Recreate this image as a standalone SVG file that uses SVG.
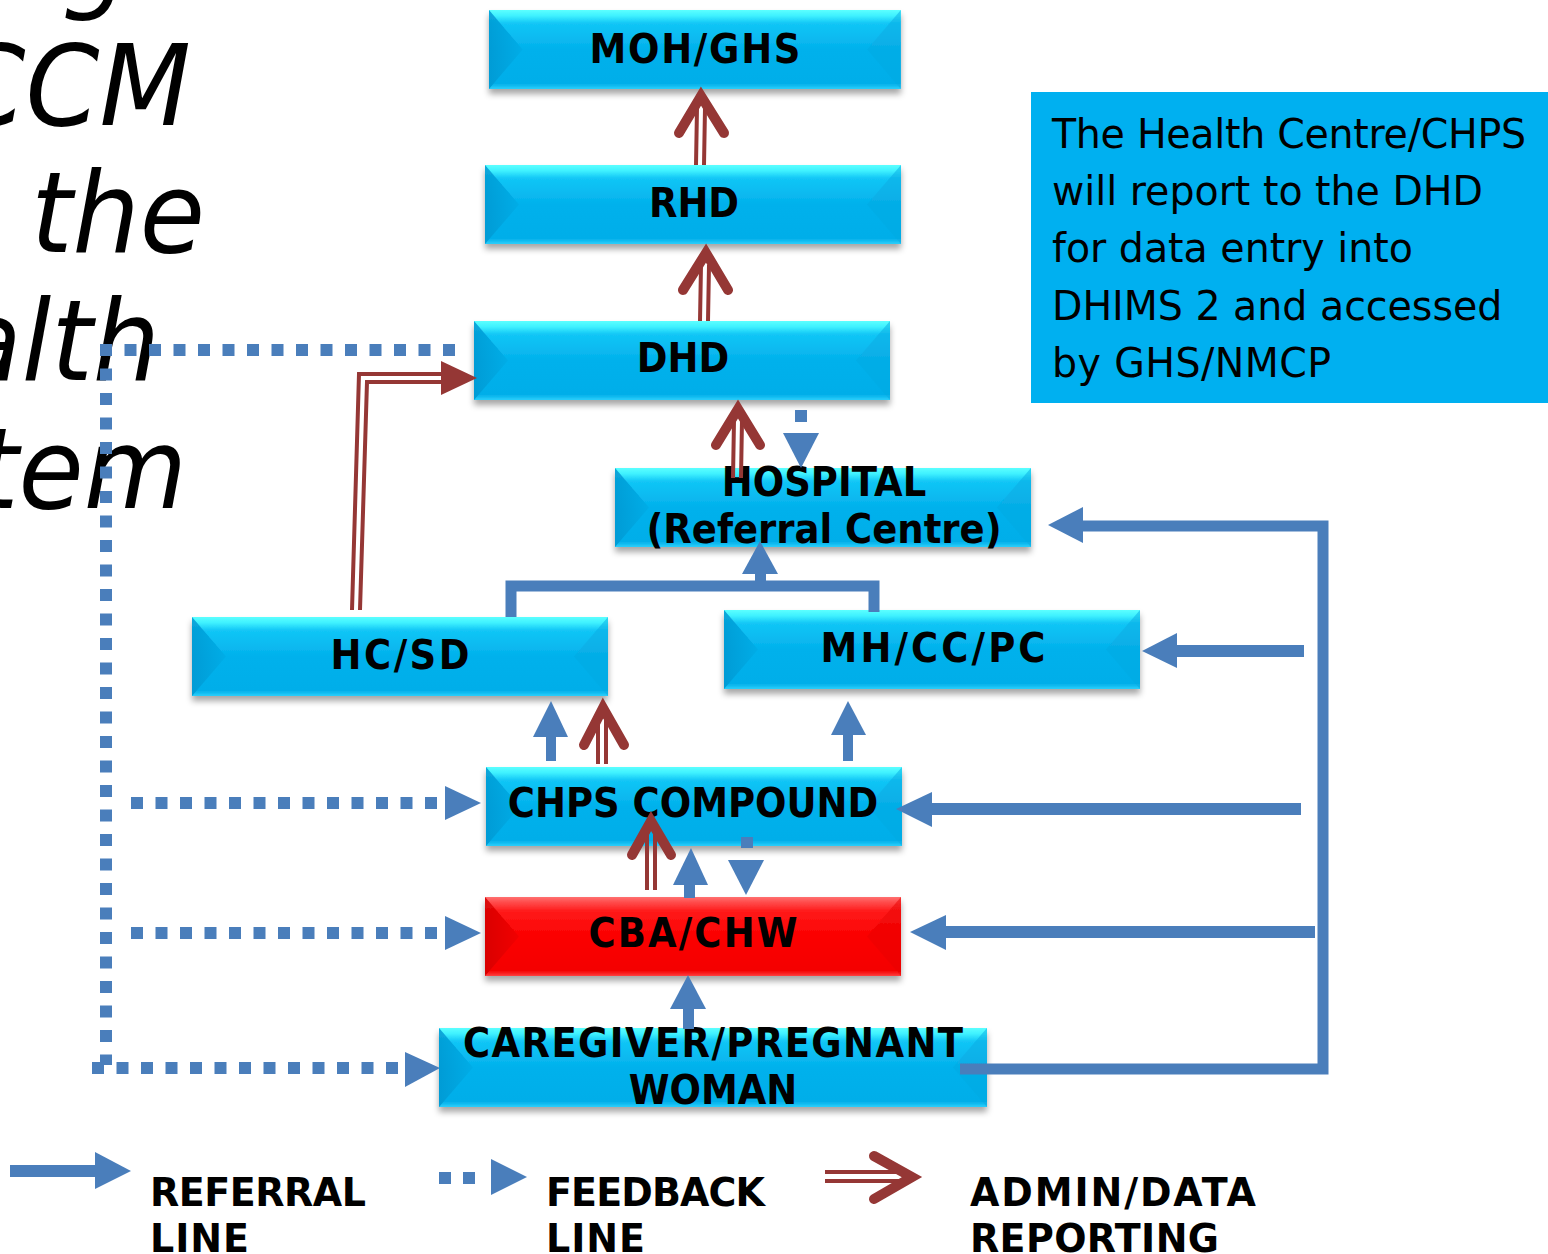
<svg xmlns="http://www.w3.org/2000/svg" xmlns:xlink="http://www.w3.org/1999/xlink" width="1548" height="1254" viewBox="0 0 1548 1254">
<defs>
<linearGradient id="gc" x1="0" y1="0" x2="0" y2="1">
<stop offset="0" stop-color="#5cffff"/>
<stop offset="0.07" stop-color="#40f2ff"/>
<stop offset="0.17" stop-color="#12c6f6"/>
<stop offset="0.5" stop-color="#03b1ec"/>
<stop offset="0.93" stop-color="#00aee9"/>
<stop offset="1" stop-color="#2ccffb"/>
</linearGradient>
<linearGradient id="gcl" x1="0" y1="0" x2="1" y2="0">
<stop offset="0" stop-color="#0098d2"/>
<stop offset="1" stop-color="#04ace6"/>
</linearGradient>
<linearGradient id="gr" x1="0" y1="0" x2="0" y2="1">
<stop offset="0" stop-color="#ff7070"/>
<stop offset="0.07" stop-color="#ff4a4a"/>
<stop offset="0.18" stop-color="#ff1a1a"/>
<stop offset="0.5" stop-color="#fb0000"/>
<stop offset="0.93" stop-color="#f40000"/>
<stop offset="1" stop-color="#ff4040"/>
</linearGradient>
<linearGradient id="grl" x1="0" y1="0" x2="1" y2="0">
<stop offset="0" stop-color="#d40000"/>
<stop offset="1" stop-color="#f00000"/>
</linearGradient>
<filter id="sh" x="-5%" y="-20%" width="110%" height="160%">
<feDropShadow dx="0" dy="5" stdDeviation="3" flood-color="#000" flood-opacity="0.35"/>
</filter>
<g id="cbox">
<rect x="0" y="0" width="416" height="79" fill="url(#gc)"/>
<polygon points="0,0 34,39.5 0,79" fill="url(#gcl)" opacity="0.85"/>
<polygon points="416,0 382,39.5 416,79" fill="#08aae2" opacity="0.5"/>
</g>
<g id="rbox">
<rect x="0" y="0" width="416" height="79" fill="url(#gr)"/>
<polygon points="0,0 34,39.5 0,79" fill="url(#grl)" opacity="0.85"/>
<polygon points="416,0 382,39.5 416,79" fill="#e80000" opacity="0.5"/>
</g>
<style>
.bt{font-family:"DejaVu Sans",Verdana,sans-serif;font-weight:bold;font-size:37px;fill:#000;text-anchor:middle}
.lg{font-family:"DejaVu Sans",Verdana,sans-serif;font-weight:bold;font-size:38px;fill:#000}
.it{font-family:"DejaVu Sans",Verdana,sans-serif;font-style:italic;font-size:106px;fill:#000;text-anchor:end}
.nt{font-family:"DejaVu Sans",Verdana,sans-serif;font-size:39.5px;fill:#000}
.ref{fill:none;stroke:#4a7ebb;stroke-width:11}
.refp{fill:#4a7ebb}
.fb{fill:none;stroke:#4a7ebb;stroke-width:12;stroke-dasharray:12 12.5}
.adm{fill:none;stroke:#953735;stroke-width:4}
.chev{fill:none;stroke:#953735;stroke-width:10;stroke-linecap:round;stroke-linejoin:miter;stroke-miterlimit:10}
.admp{fill:#953735}
</style>
</defs>
<rect x="0" y="0" width="1548" height="1254" fill="#ffffff"/>

<g id="title">
<text class="it" transform="translate(62 -2) scale(1 1.06)" style="text-anchor:start">g</text>
<text class="it" transform="translate(191 125) scale(1 1.06)">CCM</text>
<text class="it" transform="translate(205 252) scale(1 1.06)">the</text>
<text class="it" transform="translate(160 380) scale(1 1.06)">alth</text>
<text class="it" transform="translate(187 508) scale(1 1.06)">tem</text>
</g>

<g id="note">
<rect x="1031" y="92" width="517" height="311" fill="#00b0f0"/>
<text class="nt" transform="translate(1052 148) scale(1 1.05)" textLength="474" lengthAdjust="spacing">The Health Centre/CHPS</text>
<text class="nt" transform="translate(1052 205) scale(1 1.05)">will report to the DHD</text>
<text class="nt" transform="translate(1052 262) scale(1 1.05)">for data entry into</text>
<text class="nt" transform="translate(1052 320) scale(1 1.05)">DHIMS 2 and accessed</text>
<text class="nt" transform="translate(1052 377) scale(1 1.05)" textLength="279" lengthAdjust="spacing">by GHS/NMCP</text>
</g>

<g id="moh">
<use xlink:href="#cbox" href="#cbox" transform="translate(489 10) scale(0.99 1)" filter="url(#sh)"/>
<text class="bt" transform="translate(695 63) scale(1 1.08)" textLength="211" lengthAdjust="spacing">MOH/GHS</text>
</g>
<g id="rhd">
<use xlink:href="#cbox" href="#cbox" transform="translate(485 165)" filter="url(#sh)"/>
<text class="bt" transform="translate(694 217) scale(1 1.08)">RHD</text>
</g>
<g id="dhd">
<use xlink:href="#cbox" href="#cbox" transform="translate(474 321)" filter="url(#sh)"/>
<text class="bt" transform="translate(683 372) scale(1 1.08)">DHD</text>
</g>
<g id="hospital">
<use xlink:href="#cbox" href="#cbox" transform="translate(615 468)" filter="url(#sh)"/>
<text class="bt" transform="translate(824 496) scale(1 1.08)">HOSPITAL</text>
<text class="bt" transform="translate(824 543) scale(1 1.08)">(Referral Centre)</text>
</g>
<g id="hcsd">
<use xlink:href="#cbox" href="#cbox" transform="translate(192 617)" filter="url(#sh)"/>
<text class="bt" transform="translate(400 669) scale(1 1.08)" textLength="139" lengthAdjust="spacing">HC/SD</text>
</g>
<g id="mhccpc">
<use xlink:href="#cbox" href="#cbox" transform="translate(724 610)" filter="url(#sh)"/>
<text class="bt" transform="translate(933 662) scale(1 1.08)" textLength="225" lengthAdjust="spacing">MH/CC/PC</text>
</g>
<g id="chps">
<use xlink:href="#cbox" href="#cbox" transform="translate(486 767)" filter="url(#sh)"/>
<text class="bt" transform="translate(693 817) scale(1 1.08)">CHPS COMPOUND</text>
</g>
<g id="cba">
<use xlink:href="#rbox" href="#rbox" transform="translate(485 897)" filter="url(#sh)"/>
<text class="bt" transform="translate(693 947) scale(1 1.08)" textLength="209" lengthAdjust="spacing">CBA/CHW</text>
</g>
<g id="caregiver">
<g filter="url(#sh)">
<rect x="439" y="1028" width="548" height="79" fill="url(#gc)"/>
<polygon points="439,1028 473,1067.5 439,1107" fill="url(#gcl)" opacity="0.85"/>
<polygon points="987,1028 953,1067.5 987,1107" fill="#08aae2" opacity="0.5"/>
</g>
<text class="bt" transform="translate(713 1057) scale(1 1.08)" textLength="500" lengthAdjust="spacing">CAREGIVER/PREGNANT</text>
<text class="bt" transform="translate(713 1104) scale(1 1.08)">WOMAN</text>
</g>

<g id="connectors">
<path class="fb" d="M106,344 V1065"/>
<path class="fb" d="M100,350 H458"/>
<path class="fb" d="M131,803 H440"/>
<polygon class="refp" points="445,786 445,820 481,803"/>
<path class="fb" d="M131,933 H440"/>
<polygon class="refp" points="445,916 445,950 481,933"/>
<path class="fb" d="M92,1068 H400"/>
<polygon class="refp" points="405,1052 405,1087 440,1068"/>
<rect class="refp" x="795" y="410" width="12" height="12"/>
<polygon class="refp" points="783,433 819,433 801,468"/>
<rect class="refp" x="741" y="837" width="12" height="11"/>
<polygon class="refp" points="728,860 764,860 746,895"/>

<path class="ref" d="M511,617 V586 H874 V612"/>
<rect class="refp" x="755" y="572" width="11" height="10"/>
<polygon class="refp" points="742,574 778,574 760,541"/>
<rect class="refp" x="546" y="735" width="10" height="26"/>
<polygon class="refp" points="533,737 568,737 551,701"/>
<rect class="refp" x="843" y="733" width="10" height="28"/>
<polygon class="refp" points="831,735 866,735 848,701"/>
<rect class="refp" x="684" y="883" width="11" height="15"/>
<polygon class="refp" points="673,885 708,885 691,848"/>
<rect class="refp" x="683" y="1006" width="11" height="23"/>
<polygon class="refp" points="670,1009 706,1009 688,975"/>
<path class="ref" d="M960,1069 H1323 V526 H1080"/>
<polygon class="refp" points="1083,507 1083,543 1048,525"/>
<path class="ref" d="M1304,651 H1175" style="stroke-width:12"/>
<polygon class="refp" points="1177,633 1177,668 1142,651"/>
<path class="ref" d="M1301,809 H930" style="stroke-width:12"/>
<polygon class="refp" points="932,792 932,827 896,809"/>
<path class="ref" d="M1315,932 H944" style="stroke-width:12"/>
<polygon class="refp" points="946,915 946,950 910,932"/>

<path class="adm" d="M696,165 L697,108 M704,165 L705,108"/>
<path class="chev" d="M679,133 L701,96 L724,133"/>
<path class="adm" d="M700,321 L701,265 M708,321 L709,265"/>
<path class="chev" d="M683,290 L706,253 L728,290"/>
<path class="adm" d="M733,478 L734,420 M741,478 L742,420"/>
<path class="chev" d="M716,445 L738,409 L760,445"/>
<path class="adm" d="M352,610 L359,374 L442,374 M360,610 L367,382 L442,382"/>
<polygon class="admp" points="441,361 441,395 477,378"/>
<path class="adm" d="M598,764 L598,720 M606,764 L606,720"/>
<path class="chev" d="M584,745 L603,708 L624,745"/>
<path class="adm" d="M647,890 L647,832 M655,890 L655,832"/>
<path class="chev" d="M632,855 L651,821 L671,855"/>
</g>

<g id="legend">
<rect class="refp" x="10" y="1165" width="86" height="12"/>
<polygon class="refp" points="95,1152 131,1171 95,1189"/>
<text class="lg" transform="translate(150 1206) scale(1 1.04)" textLength="216" lengthAdjust="spacing">REFERRAL</text>
<text class="lg" transform="translate(150 1252) scale(1 1.04)" textLength="99" lengthAdjust="spacing">LINE</text>
<rect class="refp" x="439" y="1172" width="12" height="12"/>
<rect class="refp" x="463" y="1172" width="12" height="12"/>
<polygon class="refp" points="491,1159 527,1177 491,1195"/>
<text class="lg" transform="translate(546 1206) scale(1 1.04)" textLength="219" lengthAdjust="spacing">FEEDBACK</text>
<text class="lg" transform="translate(546 1252) scale(1 1.04)" textLength="99" lengthAdjust="spacing">LINE</text>
<path class="adm" d="M825,1172 H902 M825,1181 H902"/>
<path class="chev" d="M874,1156 L912,1177 L874,1199"/>
<text class="lg" transform="translate(970 1206) scale(1 1.04)" textLength="286" lengthAdjust="spacing">ADMIN/DATA</text>
<text class="lg" transform="translate(970 1252) scale(1 1.04)" textLength="249" lengthAdjust="spacing">REPORTING</text>
</g>
</svg>
